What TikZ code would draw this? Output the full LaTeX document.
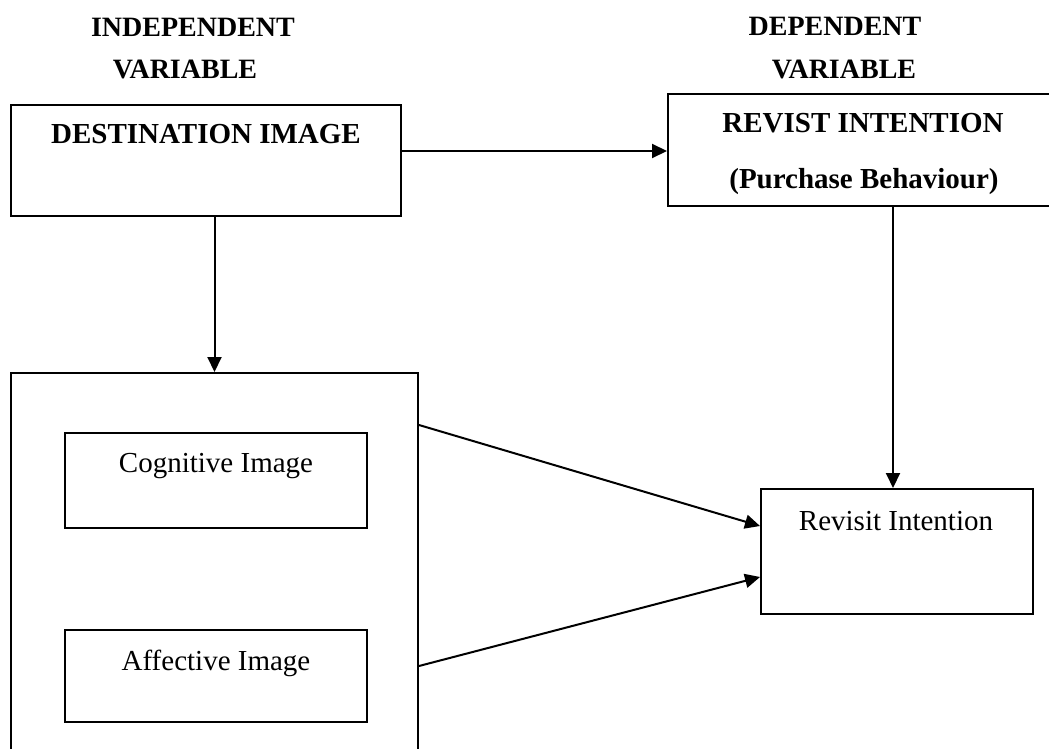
\documentclass[tikz,border=0pt]{standalone}
\usepackage{fontspec}
\setmainfont{Liberation Serif}
\usepackage{tikz}
\usetikzlibrary{positioning,arrows.meta}
\tikzset{ %
  ,>={Triangle[length=15pt,width=14pt]}
  ,every node/.style={inner sep=0}
  ,box/.style={draw, rectangle, line width=2pt}
  ,head/.style={font=\bfseries\fontsize{28}{34}\selectfont, anchor=base}
  ,title/.style={font=\bfseries\fontsize{29}{34}\selectfont, anchor=base}
  ,item/.style={font=\fontsize{29}{34}\selectfont, anchor=base}
  ,link/.style={->, line width=2pt}
}

\begin{document}
\begin{tikzpicture}[x=1pt, y=-1pt]
    \useasboundingbox (0,0) rectangle (1049,749);
    \clip (0,0) rectangle (1049,749);
    % variable headings
    \node[head] (indep) at (193,37) {INDEPENDENT};
    \node[head] (indepvar) at (185,79) {VARIABLE};
    \node[head] (dep) at (835,36) {DEPENDENT};
    \node[head] (depvar) at (844,79) {VARIABLE};
    % boxes
    \node[box, minimum width=390pt, minimum height=111pt] (dest) at (206,160.5) {};
    \node[box, minimum width=450pt, minimum height=112pt] (revist) at (893,150) {};
    \node[box, minimum width=407pt, minimum height=407pt] (image) at (214.5,576.5) {};
    \node[box, minimum width=302pt, minimum height=95pt] (cogn) at (216,480.5) {};
    \node[box, minimum width=302pt, minimum height=92pt] (affect) at (216,676) {};
    \node[box, minimum width=272pt, minimum height=125pt] (revisit) at (897,551.5) {};
    % box texts
    \node[title] (destlbl) at (206,143) {DESTINATION IMAGE};
    \node[title] (revistlbl) at (863,132) {REVIST INTENTION};
    \node[title] (purchlbl) at (864,188) {(Purchase Behaviour)};
    \node[item] (cognlbl) at (216,472) {Cognitive Image};
    \node[item] (affectlbl) at (216,670) {Affective Image};
    \node[item] (revisitlbl) at (896,530) {Revisit Intention};
    % arrows
    \draw[link] ([yshift=-47pt]dest.north east) -- ([yshift=-58pt]revist.north west);
    \draw[link] (image.north |- dest.south) -- (image.north);
    \draw[link] (revist.south) -- (revist.south |- revisit.north);
    \draw[link] ([yshift=-53pt]image.north east) -- ([yshift=-38pt]revisit.north west);
    \draw[link] ([yshift=-294pt]image.north east) -- ([yshift=-89pt]revisit.north west);
\end{tikzpicture}
\end{document}
